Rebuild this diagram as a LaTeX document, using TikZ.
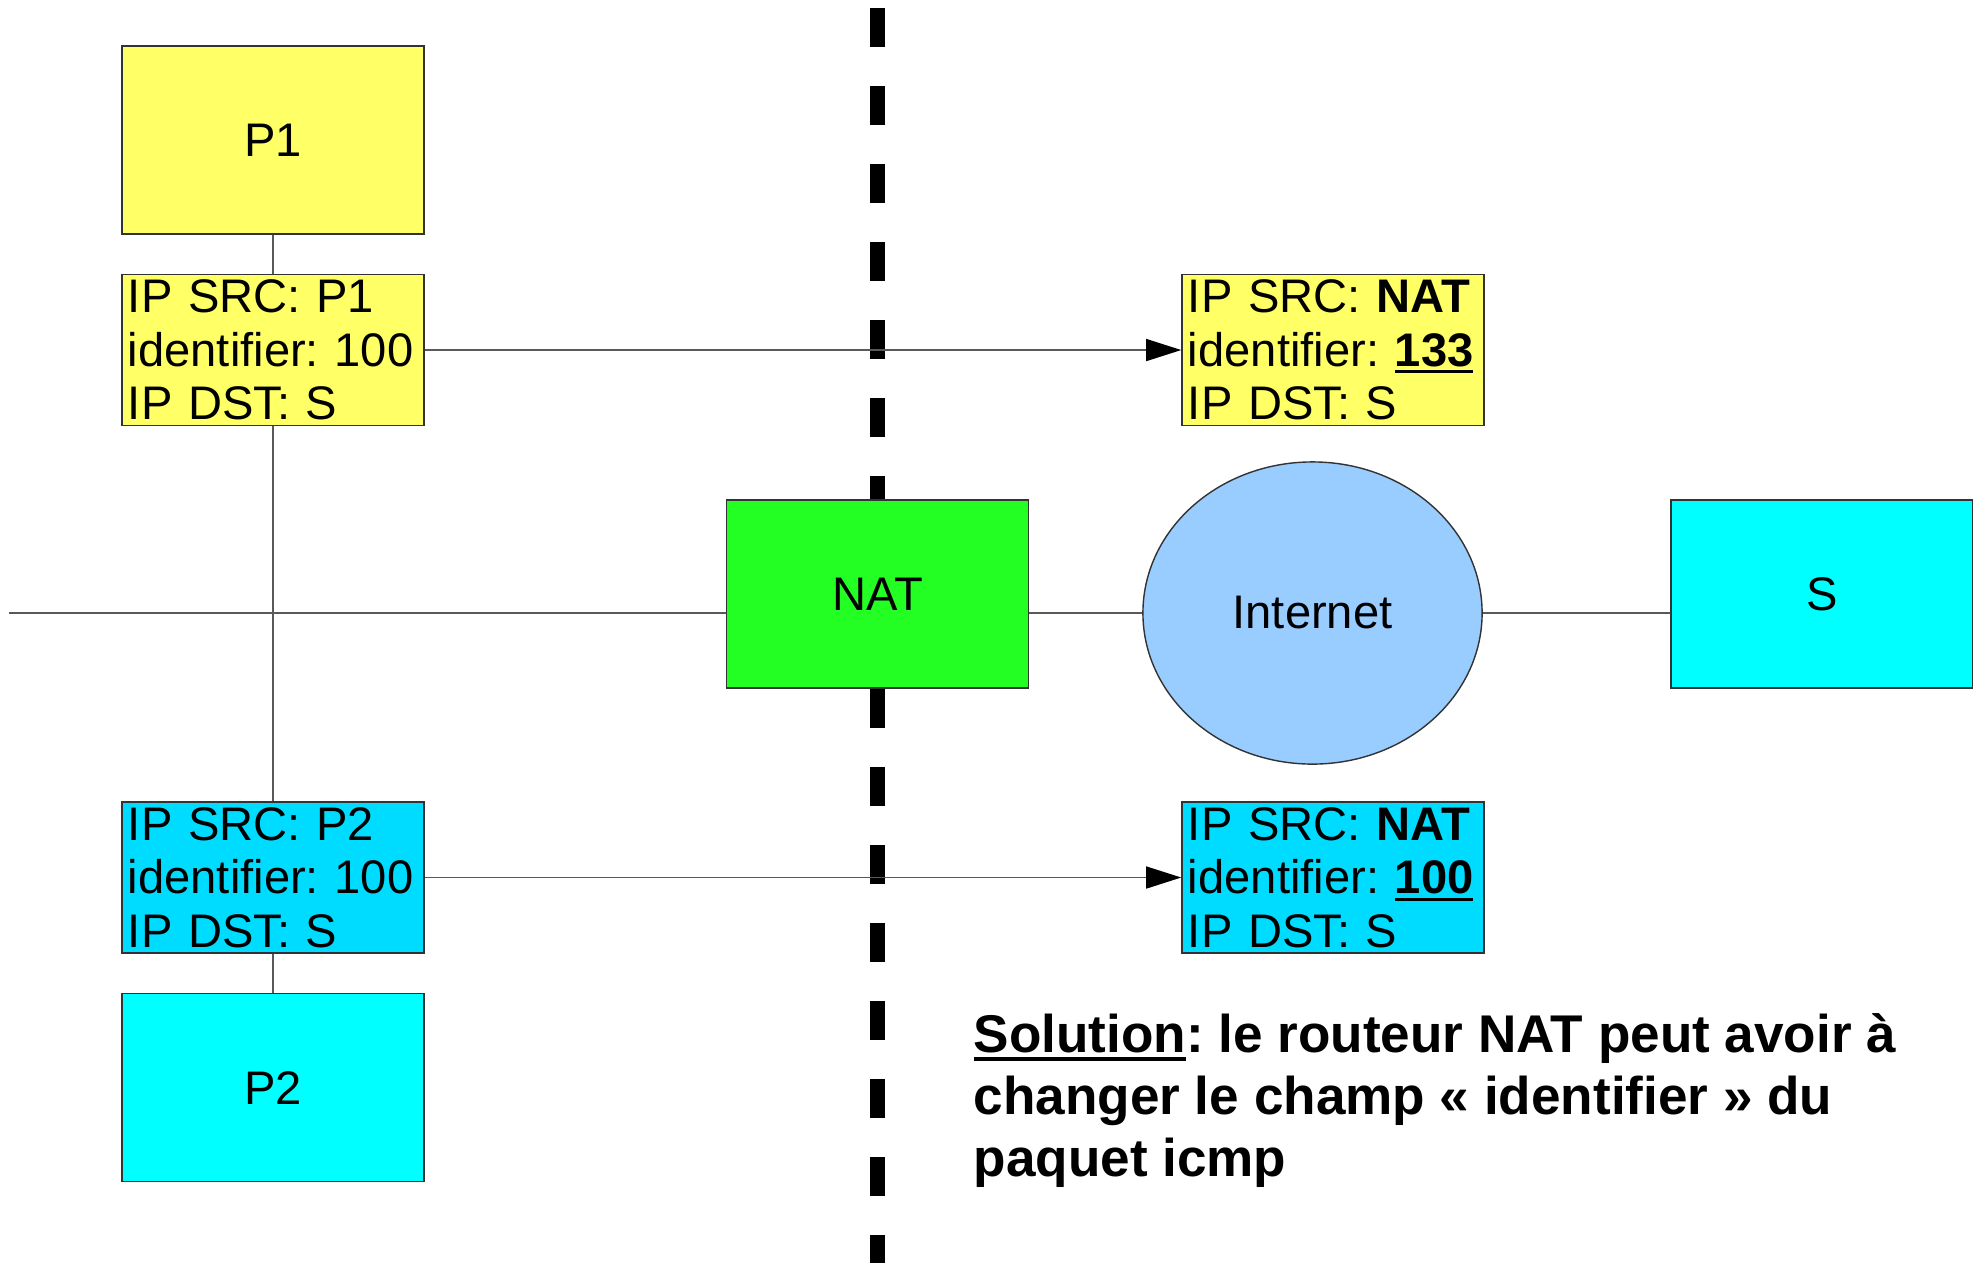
\documentclass[tikz,border=0pt]{standalone}
\usepackage{fontspec}
\setmainfont{Liberation Sans}
\usetikzlibrary{positioning, arrows.meta, shapes.geometric}

\definecolor{pyellow}{RGB}{255,255,102}
\definecolor{pgreen}{RGB}{35,255,35}
\definecolor{pcyan}{RGB}{0,255,255}
\definecolor{hcyan}{RGB}{0,220,255}
\definecolor{pblue}{RGB}{153,204,255}
\definecolor{edge}{RGB}{51,51,51}

\newsavebox{\undlbox}
\newcommand{\undl}[1]{\sbox{\undlbox}{#1}\rlap{\rule[-0.15em]{\wd\undlbox}{0.07em}}\usebox{\undlbox}}

\begin{document}
\begin{tikzpicture}[
		x=0.01cm, y=-0.01cm,
		host/.style={rectangle, draw=edge, line width=0.4pt, minimum width=3.02cm, minimum height=1.88cm, inner sep=0pt, font=\fontsize{13.4}{15.2}\selectfont},
		hdr/.style={rectangle, draw=edge, line width=0.4pt, minimum height=1.51cm, text width=2.9cm, inner xsep=0.06cm, inner ysep=0pt, align=left, font=\frenchspacing\fontsize{13.4}{15.2}\selectfont},
		cloud/.style={ellipse, draw=edge, line width=0.4pt, fill=pblue, minimum width=3.39cm, minimum height=3.02cm, inner sep=0pt, font=\fontsize{13.4}{15.2}\selectfont},
		link/.style={draw=black!65, line width=0.4pt},
		cut/.style={line width=0.15cm, dash pattern=on 0.39cm off 0.39cm},
		note/.style={anchor=base west, inner sep=0pt, align=left, font=\frenchspacing\bfseries\fontsize{15.1}{17.5}\selectfont},
		>={Triangle[length=3.5mm, width=2.2mm, color=black]}
	]

	\useasboundingbox (0,0) rectangle (1973,1263);

	\coordinate (cuttop) at (877.5,8);
	\coordinate (cutbot) at (877.5,1263);
	\coordinate (lanend) at (9,613);

	\node[host, fill=pyellow] (p1) at (273,140) {P1};
	\node[hdr, fill=pyellow, below=0.39cm of p1] (p1hdr) {IP SRC: P1\\identifier: 100\\IP DST: S};
	\node[hdr, fill=hcyan] (p2hdr) at (273,877.5) {IP SRC: P2\\identifier: 100\\IP DST: S};
	\node[host, fill=pcyan, below=0.39cm of p2hdr] (p2) {P2};
	\node[host, fill=pgreen] (nat) at (877.5,594) {NAT};
	\node[cloud] (inet) at (1312.5,613) {Internet};
	\node[host, fill=pcyan] (srv) at (1822,594) {S};
	\node[hdr, fill=pyellow, right=7.56cm of p1hdr] (nathdr1) {IP SRC: \textbf{NAT}\\identifier: \undl{\textbf{133}}\\IP DST: S};
	\node[hdr, fill=hcyan, right=7.56cm of p2hdr] (nathdr2) {IP SRC: \textbf{NAT}\\identifier: \undl{\textbf{100}}\\IP DST: S};
	% base anchor sits on the last line
	\node[note] (sol) at (973,1176) {\undl{Solution}: le routeur NAT peut avoir à\\changer le champ « identifier » du\\paquet icmp};

	\draw[cut] (cuttop) -- (nat);
	\draw[cut] (nat) -- (cutbot);

	\foreach \i/\j in {p1/p1hdr, p1hdr/p2hdr, p2hdr/p2}
		\draw[link] (\i) -- (\j);

	\draw[link] (lanend) -- (lanend -| nat.west);
	\draw[link] (lanend -| nat.east) -- (inet);
	\draw[link] (inet) -- (lanend -| srv.west);

	\foreach \i/\j in {p1hdr/nathdr1, p2hdr/nathdr2}
		\draw[link, ->] (\i) -- (\j);

\end{tikzpicture}
\end{document}
